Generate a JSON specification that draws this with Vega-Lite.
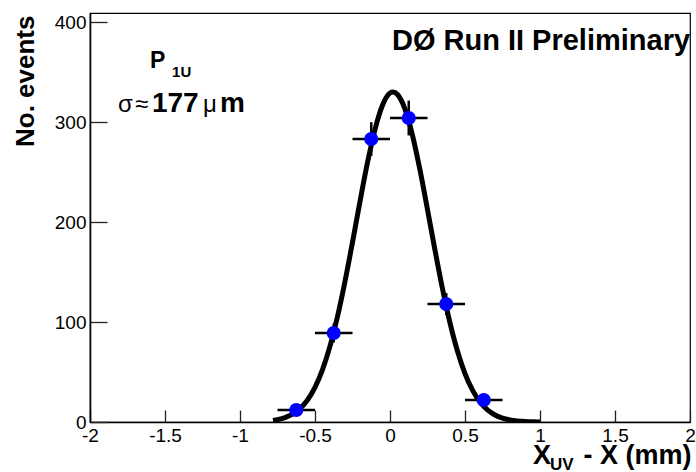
{
  "$schema": "https://vega.github.io/schema/vega-lite/v6.json",
  "autosize": {"type": "none"},
  "padding": {"left": 90, "top": 13, "right": 6, "bottom": 50},
  "width": 600,
  "height": 409,
  "background": "white",
  "config": {
    "view": {"stroke": "black", "strokeWidth": 1.2},
    "font": "Liberation Sans",
    "axis": {
      "domainColor": "black", "domainWidth": 1.6,
      "tickColor": "#222", "tickWidth": 1.3,
      "labelFont": "Liberation Sans", "labelFontSize": 19, "labelColor": "black",
      "titleFont": "Liberation Sans", "titleFontWeight": "bold", "titleColor": "black",
      "grid": false
    }
  },
  "datasets": {
    "hist": [
      {"x": -0.625, "y": 12, "xlo": -0.75, "xhi": -0.5, "ylo": 8.5, "yhi": 15.5},
      {"x": -0.375, "y": 89, "xlo": -0.5, "xhi": -0.25, "ylo": 79.6, "yhi": 98.4},
      {"x": -0.125, "y": 283, "xlo": -0.25, "xhi": 0.0, "ylo": 266.2, "yhi": 299.8},
      {"x": 0.125, "y": 304, "xlo": 0.0, "xhi": 0.25, "ylo": 286.6, "yhi": 321.4},
      {"x": 0.375, "y": 118, "xlo": 0.25, "xhi": 0.5, "ylo": 107.1, "yhi": 128.9},
      {"x": 0.625, "y": 22, "xlo": 0.5, "xhi": 0.75, "ylo": 17.3, "yhi": 26.7}
    ],
    "fit": [
      {"x": -0.78, "y": 1.6}, {"x": -0.75, "y": 2.4}, {"x": -0.7, "y": 4.4},
      {"x": -0.65, "y": 7.8}, {"x": -0.6, "y": 13.4}, {"x": -0.55, "y": 22.0},
      {"x": -0.5, "y": 34.7}, {"x": -0.45, "y": 52.4}, {"x": -0.4, "y": 75.9},
      {"x": -0.35, "y": 105.5}, {"x": -0.3, "y": 140.6}, {"x": -0.25, "y": 179.8},
      {"x": -0.2, "y": 220.5}, {"x": -0.15, "y": 259.4}, {"x": -0.1, "y": 292.7},
      {"x": -0.05, "y": 316.8}, {"x": 0.0, "y": 329.0}, {"x": 0.02, "y": 330.0},
      {"x": 0.05, "y": 327.5}, {"x": 0.1, "y": 312.9}, {"x": 0.15, "y": 286.7},
      {"x": 0.2, "y": 251.9}, {"x": 0.25, "y": 212.4}, {"x": 0.3, "y": 171.8},
      {"x": 0.35, "y": 133.2}, {"x": 0.4, "y": 99.1}, {"x": 0.45, "y": 70.7},
      {"x": 0.5, "y": 48.4}, {"x": 0.55, "y": 31.8}, {"x": 0.6, "y": 20.0},
      {"x": 0.65, "y": 12.1}, {"x": 0.7, "y": 7.0}, {"x": 0.75, "y": 3.9},
      {"x": 0.8, "y": 2.1}, {"x": 0.85, "y": 1.1}, {"x": 0.9, "y": 0.5},
      {"x": 0.95, "y": 0.2}, {"x": 1.0, "y": 0.1}
    ]
  },
  "layer": [
    {
      "data": {"name": "fit"},
      "mark": {"type": "line", "color": "black", "strokeWidth": 5, "interpolate": "monotone", "clip": true},
      "encoding": {
        "x": {"field": "x", "type": "quantitative",
          "scale": {"domain": [-2, 2], "nice": false, "zero": false},
          "axis": {"values": [-2, -1.5, -1, -0.5, 0, 0.5, 1, 1.5, 2], "labelExpr": "'' + datum.value",
            "tickSize": -12, "labelPadding": 16, "labelFlush": false, "labelOverlap": false,
            "title": "X\u2002\u2002\u2009- X (mm)", "titleFontSize": 27, "titleAnchor": "end", "titleAlign": "right",
            "titleX": 601, "titleY": 41, "titleBaseline": "alphabetic"}},
        "y": {"field": "y", "type": "quantitative",
          "scale": {"domain": [0, 409], "nice": false, "zero": false},
          "axis": {"values": [0, 100, 200, 300, 400], "tickSize": -17, "labelPadding": 21,
            "labelFlush": false, "labelOverlap": false,
            "title": "No. events", "titleFontSize": 26, "titleAngle": -90, "titleAnchor": "end", "titleAlign": "right",
            "titleX": -57, "titleY": 2, "titleBaseline": "alphabetic"}}
      }
    },
    {
      "data": {"name": "hist"},
      "mark": {"type": "rule", "color": "black", "strokeWidth": 2.5},
      "encoding": {"x": {"field": "xlo", "type": "quantitative"}, "x2": {"field": "xhi"}, "y": {"field": "y", "type": "quantitative"}}
    },
    {
      "data": {"name": "hist"},
      "mark": {"type": "rule", "color": "black", "strokeWidth": 2.5},
      "encoding": {"x": {"field": "x", "type": "quantitative"}, "y": {"field": "ylo", "type": "quantitative"}, "y2": {"field": "yhi"}}
    },
    {
      "data": {"name": "hist"},
      "mark": {"type": "point", "filled": true, "shape": "circle", "color": "#0000ff", "opacity": 1, "size": 200},
      "encoding": {"x": {"field": "x", "type": "quantitative"}, "y": {"field": "y", "type": "quantitative"}}
    },
    {
      "data": {"values": [{"x": 0.013, "y": 372, "t": "DØ Run II Preliminary"}]},
      "mark": {"type": "text", "font": "Liberation Sans", "fontWeight": "bold", "fontSize": 29, "align": "left", "baseline": "alphabetic", "color": "black"},
      "encoding": {"x": {"field": "x", "type": "quantitative"}, "y": {"field": "y", "type": "quantitative"}, "text": {"field": "t"}}
    },
    {
      "data": {"values": [{"x": -1.587, "y": 310, "t": "177"}, {"x": -1.133, "y": 310, "t": "m"}]},
      "mark": {"type": "text", "font": "Liberation Sans", "fontWeight": "bold", "fontSize": 28, "align": "left", "baseline": "alphabetic", "color": "black"},
      "encoding": {"x": {"field": "x", "type": "quantitative"}, "y": {"field": "y", "type": "quantitative"}, "text": {"field": "t"}}
    },
    {
      "data": {"values": [{"x": -1.6, "y": 354, "t": "P"}]},
      "mark": {"type": "text", "font": "Liberation Sans", "fontWeight": "bold", "fontSize": 23, "align": "left", "baseline": "alphabetic", "color": "black"},
      "encoding": {"x": {"field": "x", "type": "quantitative"}, "y": {"field": "y", "type": "quantitative"}, "text": {"field": "t"}}
    },
    {
      "data": {"values": [{"x": -1.813, "y": 310, "t": "σ"}, {"x": -1.7, "y": 310, "t": "≈"}, {"x": -1.247, "y": 310, "t": "μ"}]},
      "mark": {"type": "text", "font": "Liberation Sans", "fontSize": 24, "align": "left", "baseline": "alphabetic", "color": "black"},
      "encoding": {"x": {"field": "x", "type": "quantitative"}, "y": {"field": "y", "type": "quantitative"}, "text": {"field": "t"}}
    },
    {
      "data": {"values": [{"x": -1.453, "y": 345, "t": "1U"}]},
      "mark": {"type": "text", "font": "Liberation Sans", "fontWeight": "bold", "fontSize": 15, "align": "left", "baseline": "alphabetic", "color": "black"},
      "encoding": {"x": {"field": "x", "type": "quantitative"}, "y": {"field": "y", "type": "quantitative"}, "text": {"field": "t"}}
    },
    {
      "data": {"values": [{"x": 1.067, "y": -48, "t": "UV"}]},
      "mark": {"type": "text", "font": "Liberation Sans", "fontWeight": "bold", "fontSize": 17, "align": "left", "baseline": "alphabetic", "color": "black", "clip": false},
      "encoding": {"x": {"field": "x", "type": "quantitative"}, "y": {"field": "y", "type": "quantitative"}, "text": {"field": "t"}}
    }
  ]
}
